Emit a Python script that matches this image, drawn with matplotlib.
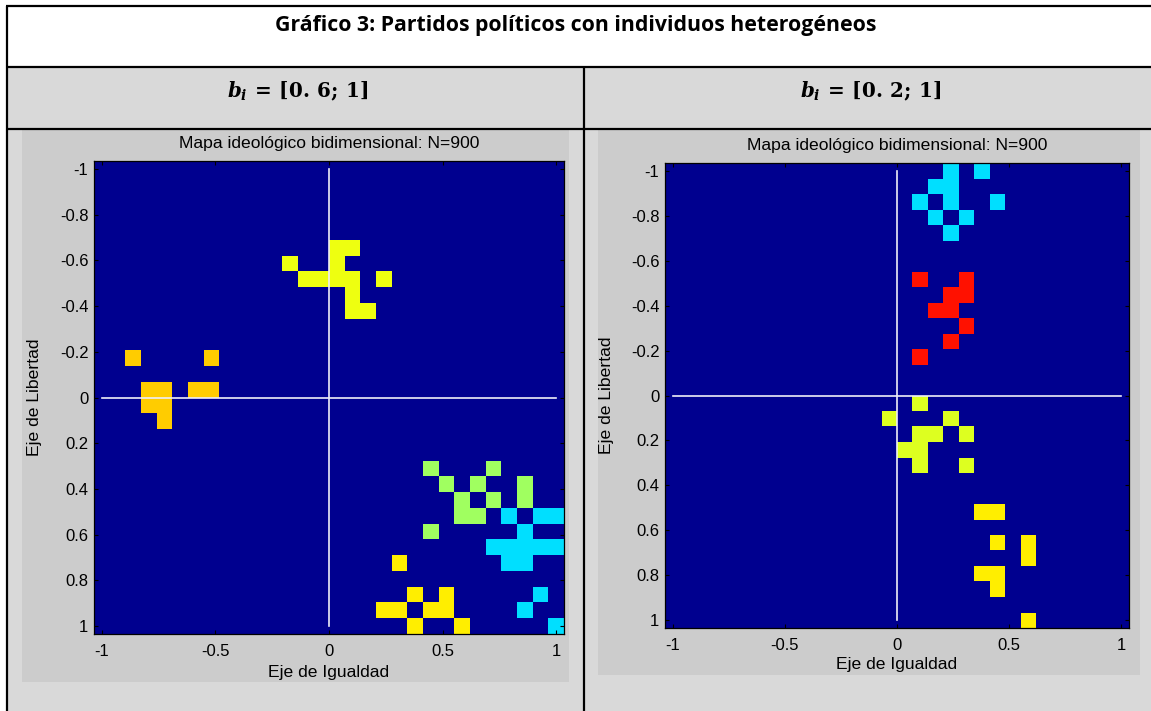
import numpy as np
import matplotlib
matplotlib.use("Agg")
import matplotlib.pyplot as plt
from matplotlib.colors import ListedColormap
from matplotlib.patches import Rectangle

plt.rcParams["mathtext.fontset"] = "custom"
plt.rcParams["mathtext.it"] = "DejaVu Serif:italic:bold"
plt.rcParams["mathtext.rm"] = "DejaVu Serif:bold"
plt.rcParams["mathtext.bf"] = "DejaVu Serif:bold"

# ---- data -------------------------------------------------------------
GRID_SIDE = 30  # 30 x 30 = 900 cells
TITLE = "Gráfico 3: Partidos políticos con individuos heterogéneos"
PANEL_HEADERS = [r"$b_i\,=\,[0.\,6;\,1]$", r"$b_i\,=\,[0.\,2;\,1]$"]
PANEL_TITLE = "Mapa ideológico bidimensional: N=900"
X_LABEL = "Eje de Igualdad"
Y_LABEL = "Eje de Libertad"
X_TICKS = [-1, -0.5, 0, 0.5, 1]
X_TICK_LABELS = ["-1", "-0.5", "0", "0.5", "1"]
Y_TICKS = [-1, -0.8, -0.6, -0.4, -0.2, 0, 0.2, 0.4, 0.6, 0.8, 1]
Y_TICK_LABELS = ["-1", "-0.8", "-0.6", "-0.4", "-0.2", "0",
                 "0.2", "0.4", "0.6", "0.8", "1"]

# occupied cells (column, row) of each party; row 0 is Libertad = -1
left_yellow_top = [(12, 6), (15, 5), (16, 5), (15, 6), (13, 7), (14, 7),
                   (15, 7), (16, 7), (18, 7), (16, 8), (16, 9), (17, 9)]
left_orange = [(2, 12), (7, 12), (3, 14), (4, 14), (6, 14), (7, 14),
               (3, 15), (4, 15), (4, 16)]
left_green = [(21, 19), (25, 19), (22, 20), (24, 20), (27, 20), (23, 21),
              (25, 21), (27, 21), (23, 22), (24, 22), (21, 23)]
left_cyan = [(26, 22), (28, 22), (29, 22), (27, 23), (25, 24), (26, 24),
             (27, 24), (28, 24), (29, 24), (26, 25), (27, 25), (28, 27),
             (27, 28), (29, 29)]
left_yellow_bottom = [(19, 25), (20, 27), (22, 27), (18, 28), (19, 28),
                      (21, 28), (22, 28), (20, 29), (23, 29)]

right_cyan = [(18, 0), (20, 0), (17, 1), (18, 1), (16, 2), (18, 2), (21, 2),
              (17, 3), (19, 3), (18, 4)]
right_red = [(16, 7), (19, 7), (18, 8), (19, 8), (17, 9), (18, 9), (19, 10),
             (18, 11), (16, 12)]
right_lime = [(16, 15), (14, 16), (18, 16), (16, 17), (17, 17), (19, 17),
              (15, 18), (16, 18), (16, 19), (19, 19)]
right_yellow = [(20, 22), (21, 22), (21, 24), (23, 24), (23, 25), (20, 26),
                (21, 26), (21, 27), (23, 29)]

EMPTY_COLOR = "#00008F"
left_parties = [(left_yellow_top, "#EEFF10"), (left_orange, "#FFCC00"),
                (left_green, "#A0FF60"), (left_cyan, "#00DFFF"),
                (left_yellow_bottom, "#FFEE00")]
right_parties = [(right_cyan, "#00DFFF"), (right_red, "#FF1100"),
                 (right_lime, "#DDFF20"), (right_yellow, "#FFEE00")]

# ---- layout helpers -----------------------------------------------------
W, H = 1151, 711
fig = plt.figure(figsize=(W / 100, H / 100), dpi=100)
fig.patch.set_facecolor("white")

bg = fig.add_axes([0, 0, 1, 1])
bg.set_xlim(0, W)
bg.set_ylim(H, 0)
bg.axis("off")


def frac(x0, y0, x1, y1):
    return [x0 / W, 1 - y1 / H, (x1 - x0) / W, (y1 - y0) / H]


# table shading
bg.add_patch(Rectangle((7, 67), W - 7, H - 67, color="#D9D9D9", lw=0))
# figure canvases
bg.add_patch(Rectangle((22, 130), 547, 552, color="#CCCCCC", lw=0))
bg.add_patch(Rectangle((598, 130), 542, 545, color="#CCCCCC", lw=0))

# table rules
rule = dict(color="black", lw=1.6, solid_capstyle="butt")
bg.plot([6, W], [6, 6], **rule)
bg.plot([7, 7], [6, H], **rule)
bg.plot([7, W], [67, 67], **rule)
bg.plot([7, W], [128.6, 128.6], **rule)
bg.plot([583.7, 583.7], [67, H], **rule)

bg.text(576, 31, TITLE, ha="center", va="baseline", fontsize=15.3,
        family="Open Sans", weight="bold")
bg.text(298, 97, PANEL_HEADERS[0], ha="center", va="baseline", fontsize=14.3)
bg.text(871, 97, PANEL_HEADERS[1], ha="center", va="baseline", fontsize=14.3)

SANS = "Liberation Sans"
TXT = 12


def draw_panel(rect, parties, xlabel_xy, ylabel_xy):
    ax = fig.add_axes(frac(*rect))
    colors = [EMPTY_COLOR] + [c for _, c in parties]
    grid = np.zeros((GRID_SIDE, GRID_SIDE))
    for k, (cells, _) in enumerate(parties, start=1):
        for col, row in cells:
            grid[row, col] = k
    step = coords[1] - coords[0]
    edges = np.concatenate([coords - step / 2, [coords[-1] + step / 2]])
    ax.pcolormesh(edges, edges, grid, cmap=ListedColormap(colors),
                  vmin=-0.5, vmax=len(colors) - 0.5, antialiased=False)
    ax.set_xlim(edges[0], edges[-1])
    ax.set_ylim(edges[-1], edges[0])
    ax.plot([0, 0], [-1, 1], color="#EEEEF8", lw=1.2)
    ax.plot([-1, 1], [0, 0], color="#EEEEF8", lw=1.2)
    ax.set_xticks(X_TICKS)
    ax.set_xticklabels(X_TICK_LABELS, family=SANS, fontsize=TXT)
    ax.set_yticks(Y_TICKS)
    ax.set_yticklabels(Y_TICK_LABELS, family=SANS, fontsize=TXT)
    ax.tick_params(direction="in", top=True, right=True, length=3.2,
                   width=0.8, colors="black", pad=4)
    ax.tick_params(axis="x", pad=7)
    for s in ax.spines.values():
        s.set_linewidth(0.9)
    ax.set_title(PANEL_TITLE, family=SANS, fontsize=12.6, pad=9.5)
    bg.text(*xlabel_xy, X_LABEL, ha="center", va="center", family=SANS,
            fontsize=12.6)
    bg.text(*ylabel_xy, Y_LABEL, ha="center", va="center", family=SANS,
            fontsize=12.6, rotation=90)
    return ax


coords = np.linspace(-1, 1, GRID_SIDE)
draw_panel((94, 161, 564, 634), left_parties, (329, 673), (35, 397))
draw_panel((665, 163, 1129, 628), right_parties, (897, 665), (607, 395))

fig.savefig("out.png", dpi=100)
